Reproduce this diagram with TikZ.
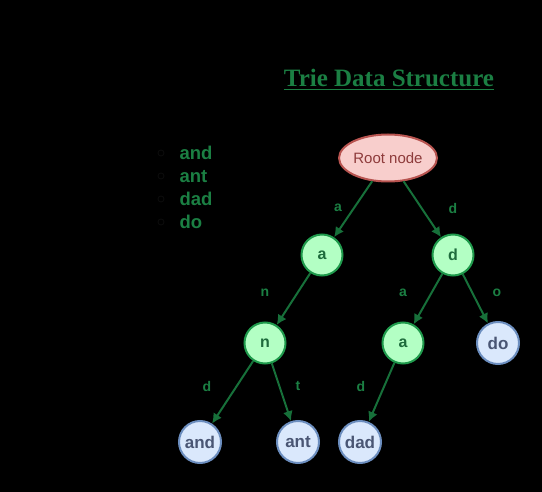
\documentclass[tikz,border=0pt]{standalone}
\usepackage{fontspec}
\setmainfont{Liberation Serif}
\setsansfont{Liberation Sans}
\usetikzlibrary{arrows.meta,shapes.geometric}
\definecolor{edgegreen}{HTML}{17703A}
\definecolor{labgreen}{HTML}{1B7F43}
\definecolor{gfill}{HTML}{B3FFC4}
\definecolor{gdraw}{HTML}{1F9A4C}
\definecolor{gtext}{HTML}{1E6B3C}
\definecolor{bfill}{HTML}{DAE8FC}
\definecolor{bdraw}{HTML}{6C8EBF}
\definecolor{btext}{HTML}{4A5674}
\definecolor{rfill}{HTML}{F8CECC}
\definecolor{rdraw}{HTML}{B85450}
\definecolor{rtext}{HTML}{8E3B3B}
\tikzset{
  gnode/.style={circle, draw=gdraw, fill=gfill, line width=2pt, minimum size=41pt, inner sep=0pt, text=gtext, font=\sffamily\bfseries\fontsize{16}{16}\selectfont},
  bnode/.style={circle, draw=bdraw, fill=bfill, line width=2pt, minimum size=42pt, inner sep=0pt, text=btext, font=\sffamily\bfseries\fontsize{17}{17}\selectfont},
  rnode/.style={ellipse, draw=rdraw, fill=rfill, line width=2pt, minimum width=86pt, minimum height=47pt, inner sep=0pt, text=rtext, font=\sffamily\fontsize{15}{15}\selectfont},
  edge/.style={draw=edgegreen, line width=2pt, -{Latex[length=10pt,width=10pt]}},
  elab/.style={text=labgreen, font=\sffamily\bfseries\fontsize{14}{14}\selectfont},
  wordtext/.style={text=labgreen, anchor=base west, font=\sffamily\bfseries\fontsize{18.5}{18.5}\selectfont},
  bullet/.style={circle, draw=black!95, line width=0.8pt, minimum size=6pt, inner sep=0pt},
}
\begin{document}
\begin{tikzpicture}[x=1pt,y=-1pt]
\fill[black] (0,0) rectangle (542,492);
\useasboundingbox (0,0) rectangle (542,492);
% title
\node[anchor=base, text=labgreen, font=\rmfamily\bfseries\fontsize{25}{25}\selectfont] (title) at (389,87) {\underline{Trie Data Structure}};
% word list
\node[wordtext] (w1) at (176,160) {and};
\node[wordtext] (w2) at (176,183) {ant};
\node[wordtext] (w3) at (176,206) {dad};
\node[wordtext] (w4) at (176,229) {do};
\node[bullet] (b1) at (161,153) {};
\node[bullet] (b2) at (161,176) {};
\node[bullet] (b3) at (161,199) {};
\node[bullet] (b4) at (161,222) {};
% nodes
\node[rnode] (root) at (388,158) {Root node};
\node[gnode] (a) at (322,255) {a};
\node[gnode] (d) at (453,255) {d};
\node[gnode] (n) at (265,343) {n};
\node[gnode] (da) at (403,343) {a};
\node[bnode] (do) at (498,343) {do};
\node[bnode] (and) at (200,442) {and};
\node[bnode] (ant) at (298,442) {ant};
\node[bnode] (dad) at (360,442) {dad};
% edges
\draw[edge] (root) -- (a);
\draw[edge] (root) -- (d);
\draw[edge] (a) -- (n);
\draw[edge] (d) -- (da);
\draw[edge] (d) -- (do);
\draw[edge] (n) -- (and);
\draw[edge] (n) -- (ant);
\draw[edge] (da) -- (dad);
% edge labels
\node[elab] (la) at (338,208) {a};
\node[elab] (ld) at (453,208) {d};
\node[elab] (ln) at (265,293) {n};
\node[elab] (lda) at (403,293) {a};
\node[elab] (lo) at (497,293) {o};
\node[elab] (ld1) at (207,386) {d};
\node[elab] (lt) at (298,386) {t};
\node[elab] (ld2) at (361,386) {d};
\end{tikzpicture}
\end{document}
